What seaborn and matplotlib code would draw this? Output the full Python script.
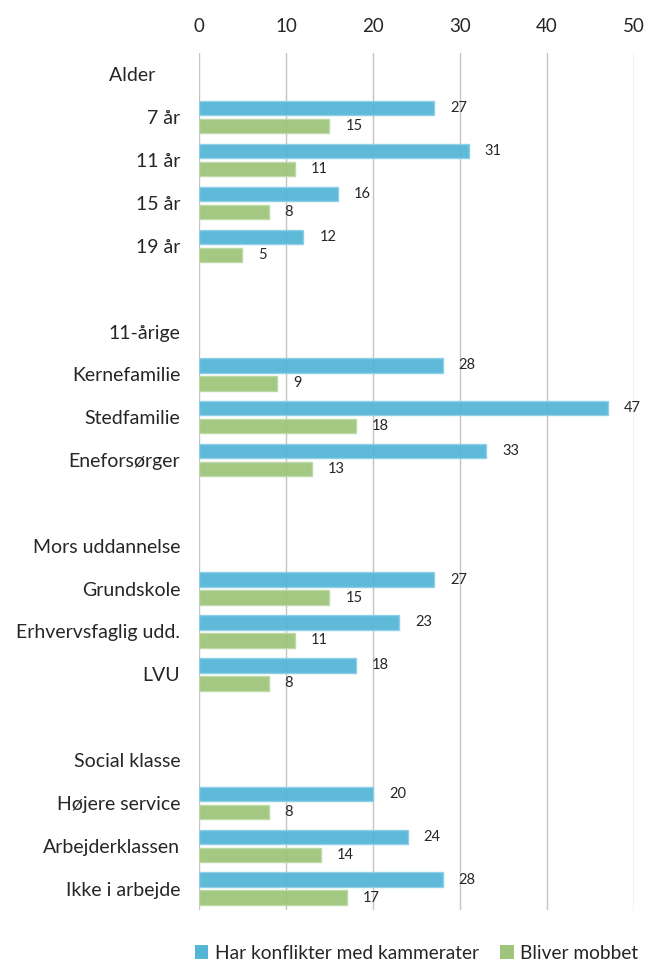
import matplotlib
matplotlib.use("Agg")
import matplotlib.pyplot as plt
from matplotlib.patches import Patch
import pandas as pd
import seaborn as sns

# Row order on the category axis: group headers, members and spacer rows
rows = ["Alder     ", "7 år", "11 år", "15 år", "19 år", " ",
        "11-årige", "Kernefamilie", "Stedfamilie", "Eneforsørger", "  ",
        "Mors uddannelse", "Grundskole", "Erhvervsfaglig udd.", "LVU", "   ",
        "Social klasse", "Højere service", "Arbejderklassen", "Ikke i arbejde"]

groups = ["7 år", "11 år", "15 år", "19 år",
          "Kernefamilie", "Stedfamilie", "Eneforsørger",
          "Grundskole", "Erhvervsfaglig udd.", "LVU",
          "Højere service", "Arbejderklassen", "Ikke i arbejde"]

konflikter = [27, 31, 16, 12, 28, 47, 33, 27, 23, 18, 20, 24, 28]
mobbet = [15, 11, 8, 5, 9, 18, 13, 15, 11, 8, 8, 14, 17]

series = ["Har konflikter med kammerater", "Bliver mobbet"]
colors = ["#56B6D6", "#9DC57B"]
edges = ["#8CCFE6", "#BDD9A6"]
xticks = [0, 10, 20, 30, 40, 50]

df = pd.DataFrame({
    "Gruppe": groups * 2,
    "Andel": konflikter + mobbet,
    "Serie": [series[0]] * len(groups) + [series[1]] * len(groups),
})

sns.set_style("white")
plt.rcParams["font.family"] = ["Lato", "DejaVu Sans"]

fig = plt.figure(figsize=(6.48, 9.73), dpi=100)
ax = fig.add_axes([199 / 648, 1 - 910 / 973, 435 / 648, 857 / 973])

sns.barplot(data=df, x="Andel", y="Gruppe", hue="Serie", order=rows,
            hue_order=series, palette=colors, saturation=1, orient="h",
            width=0.84, gap=0.2, legend=False, ax=ax, zorder=2)

for cont, ec in zip(ax.containers, edges):
    for bar in cont:
        bar.set_edgecolor(ec)
        bar.set_linewidth(1.0)
        bar.set_alpha(0.95)
    ax.bar_label(cont, fmt="%.0f", padding=11.5, fontsize=10.5, color="#262626")

ax.set_xlim(0, 50)
ax.set_ylim(len(rows) - 0.5, -0.5)
ax.set_xticks(xticks)
ax.xaxis.tick_top()
ax.set_xlabel("")
ax.set_ylabel("")
ax.grid(axis="x", color="#C4C4C4", linewidth=1.0, zorder=0)
ax.grid(axis="y", visible=False)
ax.set_axisbelow(True)
for s in ax.spines.values():
    s.set_visible(False)
ax.tick_params(axis="x", length=0, pad=13, labelsize=13.5, labelcolor="#262626")
ax.tick_params(axis="y", length=0, pad=13.5, labelsize=14, labelcolor="#262626")

handles = [Patch(facecolor=c, edgecolor="none") for c in colors]
fig.legend(handles, series, loc="lower center", bbox_to_anchor=(0.643, -0.006),
           ncol=2, frameon=False, fontsize=13.8, handlelength=0.7,
           handleheight=0.7, handletextpad=0.35, columnspacing=1.1,
           labelcolor="#262626")

fig.savefig("out.png", dpi=100)
